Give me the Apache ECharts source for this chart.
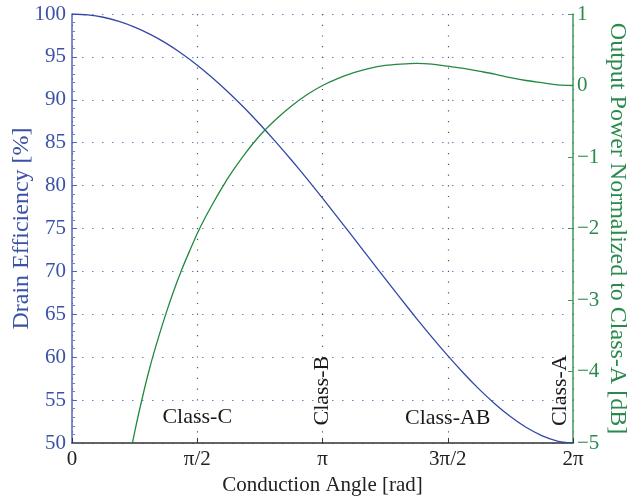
<!DOCTYPE html>
<html>
<head>
<meta charset="utf-8">
<script src="https://cdn.jsdelivr.net/npm/echarts@6/dist/echarts.min.js"></script>
<style>
  html, body { margin: 0; padding: 0; background: #fff; }
  #chart { width: 627px; height: 499px; }
</style>
</head>
<body>
<div id="chart"></div>
<script>
// Conduction angle, in multiples of pi
const effAnglePi = [0, 0.0625, 0.125, 0.1875, 0.25, 0.3125, 0.375, 0.4375, 0.5, 0.5625, 0.625,
  0.6875, 0.75, 0.8125, 0.875, 0.9375, 1, 1.0625, 1.125, 1.1875, 1.25, 1.3125, 1.375,
  1.4375, 1.5, 1.5625, 1.625, 1.6875, 1.75, 1.8125, 1.875, 1.9375, 2];
// Drain efficiency [%]
const efficiency = [100, 99.90, 99.62, 99.13, 98.47, 97.62, 96.60, 95.40, 94.04, 92.52, 90.86,
  89.07, 87.15, 85.13, 83.01, 80.81, 78.54, 76.22, 73.88, 71.51, 69.15, 66.82, 64.53,
  62.31, 60.18, 58.16, 56.28, 54.58, 53.08, 51.83, 50.86, 50.23, 50.00];

const powAnglePi = [0.1875, 0.21875, 0.25, 0.28125, 0.3125, 0.34375, 0.375, 0.40625, 0.4375,
  0.46875, 0.5, 0.53125, 0.5625, 0.59375, 0.625, 0.6875, 0.75, 0.8125, 0.875, 0.9375, 1,
  1.0625, 1.125, 1.1875, 1.25, 1.3125, 1.375, 1.4375, 1.5, 1.5625, 1.625, 1.6875, 1.75,
  1.8125, 1.875, 1.9375, 2];
// Output power relative to Class-A [dB]
const powerDb = [-6.06, -5.41, -4.85, -4.36, -3.92, -3.54, -3.19, -2.87, -2.58, -2.32, -2.07,
  -1.85, -1.65, -1.46, -1.28, -0.97, -0.70, -0.48, -0.29, -0.13, 0, 0.10, 0.18, 0.24, 0.28,
  0.30, 0.31, 0.30, 0.27, 0.24, 0.20, 0.16, 0.11, 0.07, 0.04, 0.01, 0];

const xTickText = { 0: '0', 0.5: 'π/2', 1: 'π', 1.5: '3π/2', 2: '2π' };

// Operating-class annotations, placed in (angle/pi, efficiency) coordinates
const classNames = ['Class-C', 'Class-B', 'Class-AB', 'Class-A'];
const classAngle = [0.5, 1.0, 1.5, 1.95];
const classLevel = [53.0, 56.1, 52.9, 56.1];
const classVertical = [false, true, false, true];

const SERIF = "'Liberation Serif', 'DejaVu Serif', serif";
const BLUE_TXT = '#3a52a6';
const BLUE_LINE = '#3347a8';
const GREEN_TXT = '#2a8a4c';
const GREEN_LINE = '#23893f';

const chart = echarts.init(document.getElementById('chart'), null, { renderer: 'canvas' });

chart.setOption({
  animation: false,
  backgroundColor: '#ffffff',
  grid: { left: 72, right: 54, top: 14, bottom: 56, containLabel: false, outerBoundsMode: 'none' },
  xAxis: {
    type: 'value', min: 0, max: 2, interval: 0.5,
    name: 'Conduction Angle [rad]', nameLocation: 'middle', nameGap: 29,
    nameTextStyle: { color: '#222', fontFamily: SERIF, fontSize: 21 },
    axisLine: { show: true, onZero: false, lineStyle: { color: '#333', width: 1.5 } },
    axisTick: { show: true, inside: true, length: 5, lineStyle: { color: '#333' } },
    axisLabel: {
      color: '#222', fontFamily: SERIF, fontSize: 21, margin: 6,
      formatter: v => xTickText[v] !== undefined ? xTickText[v] : ''
    },
    splitLine: { show: true, lineStyle: { color: '#555', type: [1.2, 9.5], width: 1.2 } }
  },
  yAxis: [
    {
      type: 'value', min: 50, max: 100, interval: 5, position: 'left',
      name: 'Drain Efficiency [%]', nameLocation: 'middle', nameGap: 38, nameRotate: 90,
      nameMoveOverlap: false,
      nameTextStyle: { color: BLUE_TXT, fontFamily: SERIF, fontSize: 24 },
      axisLine: { show: true, onZero: false, lineStyle: { color: '#5566b8', width: 1.5 } },
      axisTick: { show: true, inside: true, length: 5, lineStyle: { color: '#5566b8' } },
      minorTick: { show: true, splitNumber: 5, length: 3, lineStyle: { color: '#6f7fc4' } },
      axisLabel: { color: BLUE_TXT, fontFamily: SERIF, fontSize: 21, margin: 6 },
      splitLine: { show: true, lineStyle: { color: '#6f82d0', type: [1.5, 8.5], width: 1.2 } }
    },
    {
      type: 'value', min: -5, max: 1, interval: 1, position: 'right',
      name: 'Output Power Normalized to Class-A [dB]', nameLocation: 'middle', nameGap: 32,
      nameRotate: -90, nameMoveOverlap: false,
      nameTextStyle: { color: GREEN_TXT, fontFamily: SERIF, fontSize: 24 },
      axisLine: { show: true, onZero: false, lineStyle: { color: '#3f9a5c', width: 1.5 } },
      axisTick: { show: true, inside: true, length: 5, lineStyle: { color: '#3f9a5c' } },
      axisLabel: {
        color: GREEN_TXT, fontFamily: SERIF, fontSize: 21, margin: 4,
        formatter: v => v < 0 ? '\u2212' + Math.abs(v) : String(v)
      },
      splitLine: { show: false }
    }
  ],
  series: [
    {
      name: 'Drain Efficiency', type: 'line', yAxisIndex: 0,
      data: effAnglePi.map((a, i) => [a, efficiency[i]]),
      smooth: 0.25, showSymbol: false, clip: true,
      lineStyle: { color: BLUE_LINE, width: 1.3 }, z: 3
    },
    {
      name: 'Output Power', type: 'line', yAxisIndex: 1,
      data: powAnglePi.map((a, i) => [a, powerDb[i]]),
      smooth: 0.25, showSymbol: false, clip: true,
      lineStyle: { color: GREEN_LINE, width: 1.3 }, z: 4
    },
    {
      name: 'Classes', type: 'scatter', yAxisIndex: 0, symbolSize: 0, silent: true, z: 5,
      itemStyle: { opacity: 1 },
      data: classNames.map((n, i) => ({
        value: [classAngle[i], classLevel[i]],
        label: {
          show: true, formatter: n, position: 'inside', opacity: 1,
          rotate: classVertical[i] ? 90 : 0,
          align: 'center', verticalAlign: 'middle',
          color: '#1a1a1a', fontFamily: SERIF, fontSize: 22
        }
      }))
    }
  ]
});
</script>
</body>
</html>
